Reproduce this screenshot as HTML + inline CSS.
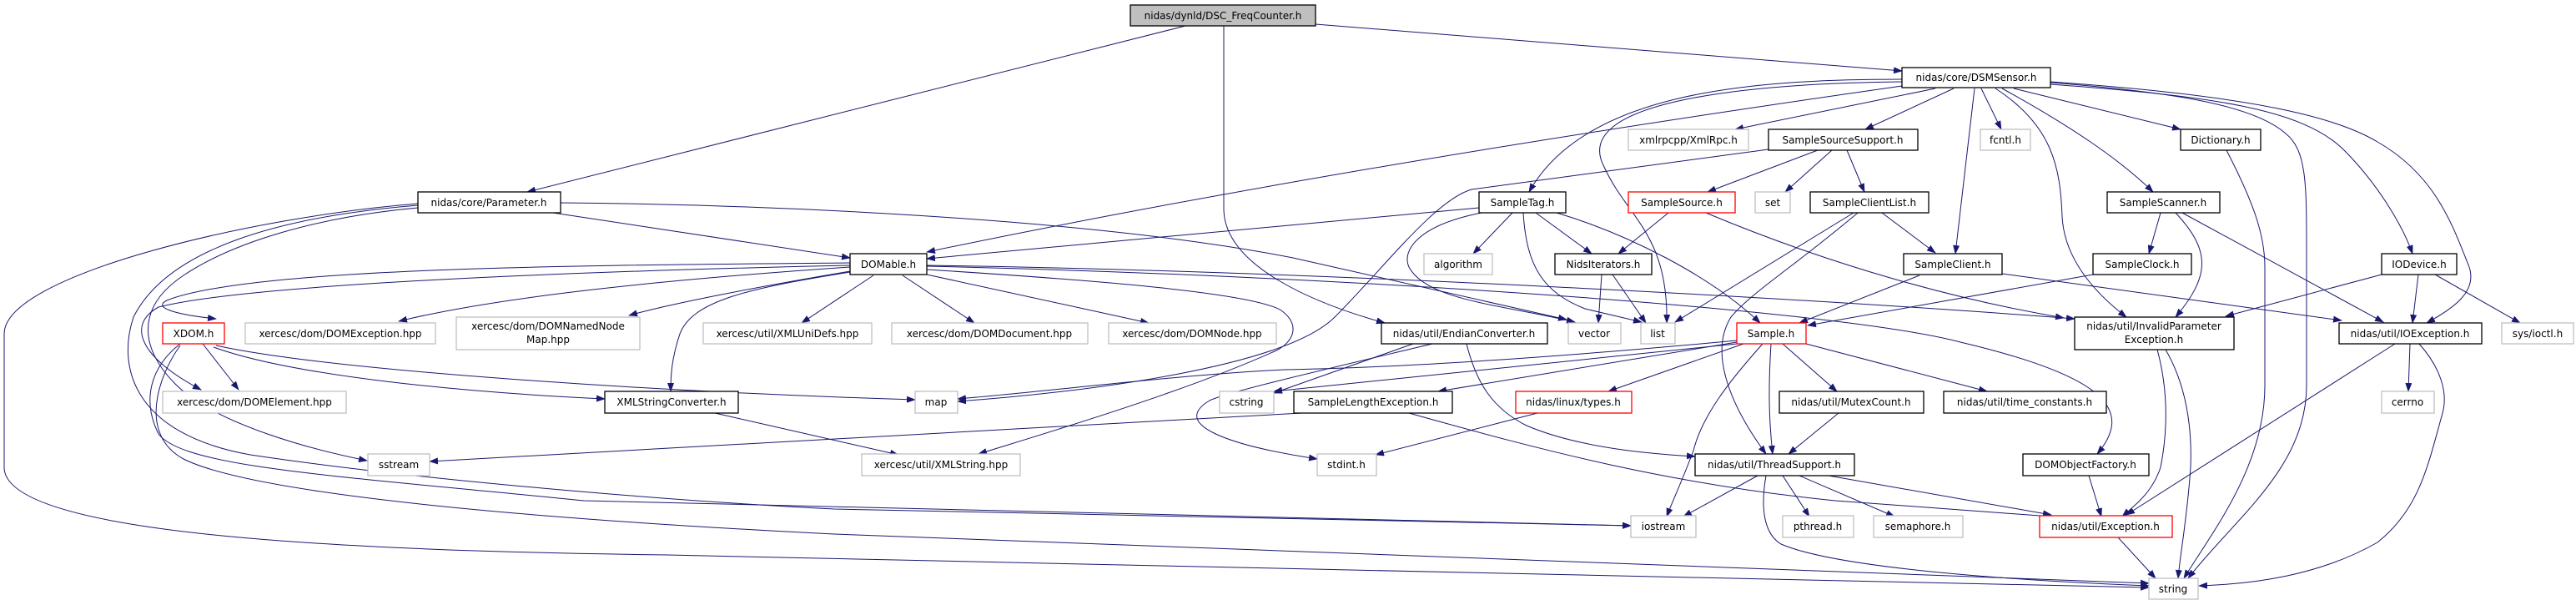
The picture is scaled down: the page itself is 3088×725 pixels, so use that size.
<!DOCTYPE html>
<html><head><meta charset="utf-8"><style>
html,body{margin:0;padding:0;background:#fff;}
svg{display:block;}
text{font-family:"DejaVu Sans","Liberation Sans",sans-serif;font-size:12px;fill:#000;}
.e{fill:none;stroke:#191970;stroke-width:1;}
.n{fill:#fff;stroke:#000;stroke-width:1.3;}
.x{fill:#fff;stroke:#bfbfbf;stroke-width:1.3;}
.r{fill:#fff;stroke:#ff0000;stroke-width:1.3;}
</style></head><body>
<svg width="3088" height="725" viewBox="0 0 3088 725" xmlns="http://www.w3.org/2000/svg">
<defs><marker id="a" markerWidth="11" markerHeight="8" refX="10" refY="4" orient="auto" markerUnits="userSpaceOnUse"><path d="M0,0 L11,4 L0,8 z" fill="#191970"/></marker></defs>
<g class="e" marker-end="url(#a)">
<!-- DSC -->
<path d="M1421,31 L632,230"/>
<path d="M1467,31 L1467,250 C1467,320 1580,365 1660,387"/>
<path d="M1577,29 L2280,85"/>
<!-- DSMSensor -->
<path d="M2280,103 Q1600,200 1111,302"/>
<path d="M2280,95 C2100,95 1900,110 1833,230"/>
<path d="M2280,98 C2100,100 1880,120 1923,200 C1950,260 2000,280 1998,387"/>
<path d="M2320,106 L2080,155"/>
<path d="M2342,106 L2236,155"/>
<path d="M2367,106 L2344,304"/>
<path d="M2375,106 L2399,155"/>
<path d="M2392,106 C2460,150 2470,200 2472,260 C2475,310 2510,350 2549,380"/>
<path d="M2400,106 C2480,150 2540,190 2581,230"/>
<path d="M2414,106 L2614,155"/>
<path d="M2458,99 C2600,110 2700,125 2740,160 C2765,180 2765,220 2765,300 L2765,462 C2765,560 2680,620 2623,693"/>
<path d="M2458,101 C2650,115 2760,130 2810,180 C2850,220 2880,270 2892,304"/>
<path d="M2458,98 C2700,115 2800,140 2850,170 C2920,210 2940,270 2960,320 C2970,350 2940,370 2909,387"/>
<!-- Parameter -->
<path d="M663,255 L1019,309"/>
<path d="M672,243 C900,245 1300,260 1550,309 L1878,383"/>
<path d="M501,244 C300,260 5,330 5,400 L5,560 C5,640 400,660 800,665 L2576,704"/>
<path d="M501,246 C330,260 200,300 160,380 C140,440 160,520 300,545 C500,575 800,600 1000,610 L1955,630"/>
<path d="M501,249 C380,260 280,290 220,330 C160,370 170,420 210,460 C260,510 380,540 440,552"/>
<!-- DOMable -->
<path d="M1019,315 C700,318 300,320 200,360 C180,370 220,378 259,382"/>
<path d="M1019,320 C800,335 600,355 478,385"/>
<path d="M1019,325 C900,345 800,365 754,378"/>
<path d="M1019,318 C700,325 300,340 190,368 C150,390 170,430 241,467"/>
<path d="M1019,326 C900,345 830,360 815,400 C805,430 804,450 804,469"/>
<path d="M1047,330 L961,387"/>
<path d="M1082,330 L1168,387"/>
<path d="M1111,329 L1377,387"/>
<path d="M1111,323 C1300,335 1500,350 1536,372 C1560,390 1550,410 1530,420 C1420,470 1250,520 1173,544"/>
<path d="M1111,319 C1600,330 2200,370 2350,410 C2520,450 2560,490 2514,544"/>
<path d="M1111,318 C1600,325 2200,360 2487,382"/>
<!-- XDOM -->
<path d="M243,412 L286,467"/>
<path d="M256,416 C350,450 550,470 725,478"/>
<path d="M259,414 C400,445 800,470 1097,479"/>
<path d="M216,412 C180,440 170,480 190,520 C220,560 400,570 700,600 L1955,630"/>
<path d="M216,414 C190,450 165,520 220,550 C300,590 600,620 1000,640 L2576,699"/>
<!-- XMLStringConverter -->
<path d="M857,495 L1077,545"/>
<!-- EndianConverter -->
<path d="M1694,412 L1527,471"/>
<path d="M1717,412 C1600,440 1470,470 1450,480 C1400,510 1480,535 1579,550"/>
<path d="M1758,412 C1770,460 1790,490 1830,510 C1900,540 2000,545 2032,547"/>
<!-- SampleSourceSupport -->
<path d="M2120,179 L1764,227 C1720,240 1660,320 1600,380 C1540,440 1300,470 1148,481"/>
<path d="M2179,180 L2047,230"/>
<path d="M2196,180 L2140,230"/>
<path d="M2214,180 L2235,230"/>
<!-- SampleTag -->
<path d="M1773,249 L1111,310"/>
<path d="M1813,255 L1766,304"/>
<path d="M1841,255 L1908,304"/>
<path d="M1776,255 C1700,270 1680,300 1689,320 C1710,360 1800,365 1888,386"/>
<path d="M1826,255 C1830,320 1850,350 1900,370 L1968,386"/>
<path d="M1866,255 C1950,280 2050,330 2110,387"/>
<!-- SampleSource -->
<path d="M2000,255 L1940,304"/>
<path d="M2045,255 C2200,320 2350,360 2474,381"/>
<!-- SampleClientList -->
<path d="M2222,255 L2008,386"/>
<path d="M2227,255 C2150,320 2100,350 2075,380 C2050,420 2070,480 2117,544"/>
<path d="M2256,255 L2320,303"/>
<!-- NidsIterators -->
<path d="M1920,329 L1916,387"/>
<path d="M1933,329 L1973,387"/>
<!-- SampleClient / Clock -->
<path d="M2301,330 L2157,387"/>
<path d="M2400,328 L2807,384"/>
<path d="M2509,329 L2167,390"/>
<!-- SampleScanner -->
<path d="M2590,255 L2576,304"/>
<path d="M2608,255 C2650,300 2650,330 2608,380"/>
<path d="M2616,255 L2857,386"/>
<!-- Dictionary -->
<path d="M2669,180 C2700,240 2715,280 2715,320 L2715,462 C2715,560 2650,640 2618,693"/>
<!-- IODevice -->
<path d="M2855,329 L2668,379"/>
<path d="M2899,329 L2892,387"/>
<path d="M2919,329 L3021,387"/>
<!-- InvalidParameterException -->
<path d="M2586,419 C2600,470 2598,520 2590,560 C2580,590 2560,605 2544,619"/>
<path d="M2596,419 C2620,460 2628,510 2626,560 C2622,620 2614,660 2611,693"/>
<!-- IOException -->
<path d="M2871,412 L2549,617"/>
<path d="M2889,412 L2887,469"/>
<path d="M2900,412 C2925,440 2935,470 2928,495 C2910,560 2900,610 2850,650 C2780,690 2700,700 2636,702"/>
<!-- Sample.h -->
<path d="M2082,410 L1724,469"/>
<path d="M2090,412 L1928,469"/>
<path d="M2137,412 L2202,469"/>
<path d="M2123,412 C2120,460 2120,500 2125,544"/>
<path d="M2113,412 C2070,460 2040,500 2030,540 C2015,580 2005,600 1998,619"/>
<path d="M2165,412 L2382,469"/>
<path d="M2082,408 C1900,425 1700,440 1540,443 C1400,450 1250,470 1148,478"/>
<path d="M2082,412 C1800,440 1600,460 1527,469"/>
<!-- others -->
<path d="M1560,495 L515,553"/>
<path d="M1689,495 C1850,540 2000,580 2200,600 L2459,619"/>
<path d="M1843,495 L1649,545"/>
<path d="M2204,495 L2144,544"/>
<path d="M2107,570 L2018,619"/>
<path d="M2137,570 L2169,619"/>
<path d="M2157,570 L2271,619"/>
<path d="M2192,570 L2459,617"/>
<path d="M2117,570 C2110,610 2115,640 2135,652 C2200,680 2400,695 2576,702"/>
<path d="M2504,570 L2519,619"/>
<path d="M2539,644 L2584,693"/>
</g>
<g>
<rect x="1355" y="6" width="222" height="25" fill="#bfbfbf" stroke="#000" stroke-width="1.3"/><text x="1466" y="23" text-anchor="middle">nidas/dynld/DSC_FreqCounter.h</text>
<rect class="n" x="2280" y="81" width="178" height="24"/><text x="2369" y="97" text-anchor="middle">nidas/core/DSMSensor.h</text>
<rect class="x" x="1952" y="155" width="144" height="25"/><text x="2024" y="172" text-anchor="middle">xmlrpcpp/XmlRpc.h</text>
<rect class="n" x="2120" y="155" width="179" height="25"/><text x="2209" y="172" text-anchor="middle">SampleSourceSupport.h</text>
<rect class="x" x="2374" y="155" width="60" height="25"/><text x="2404" y="172" text-anchor="middle">fcntl.h</text>
<rect class="n" x="2614" y="155" width="96" height="25"/><text x="2662" y="172" text-anchor="middle">Dictionary.h</text>
<rect class="n" x="501" y="230" width="171" height="25"/><text x="586" y="247" text-anchor="middle">nidas/core/Parameter.h</text>
<rect class="n" x="1773" y="230" width="104" height="25"/><text x="1825" y="247" text-anchor="middle">SampleTag.h</text>
<rect class="r" x="1952" y="230" width="128" height="25"/><text x="2016" y="247" text-anchor="middle">SampleSource.h</text>
<rect class="x" x="2104" y="230" width="42" height="25"/><text x="2125" y="247" text-anchor="middle">set</text>
<rect class="n" x="2170" y="230" width="142" height="25"/><text x="2241" y="247" text-anchor="middle">SampleClientList.h</text>
<rect class="n" x="2526" y="230" width="135" height="25"/><text x="2593" y="247" text-anchor="middle">SampleScanner.h</text>
<rect class="n" x="1019" y="304" width="92" height="25"/><text x="1065" y="321" text-anchor="middle">DOMable.h</text>
<rect class="x" x="1707" y="304" width="82" height="25"/><text x="1748" y="321" text-anchor="middle">algorithm</text>
<rect class="n" x="1864" y="304" width="116" height="25"/><text x="1922" y="321" text-anchor="middle">NidsIterators.h</text>
<rect class="n" x="2282" y="304" width="118" height="25"/><text x="2341" y="321" text-anchor="middle">SampleClient.h</text>
<rect class="n" x="2509" y="304" width="118" height="25"/><text x="2568" y="321" text-anchor="middle">SampleClock.h</text>
<rect class="n" x="2855" y="304" width="90" height="25"/><text x="2900" y="321" text-anchor="middle">IODevice.h</text>
<rect class="r" x="195" y="387" width="74" height="25"/><text x="232" y="404" text-anchor="middle">XDOM.h</text>
<rect class="x" x="294" y="387" width="228" height="25"/><text x="408" y="404" text-anchor="middle">xercesc/dom/DOMException.hpp</text>
<rect class="x" x="547" y="380" width="220" height="39"/><text x="657" y="395" text-anchor="middle">xercesc/dom/DOMNamedNode</text><text x="657" y="411" text-anchor="middle">Map.hpp</text>
<rect class="x" x="843" y="387" width="202" height="25"/><text x="944" y="404" text-anchor="middle">xercesc/util/XMLUniDefs.hpp</text>
<rect class="x" x="1069" y="387" width="235" height="25"/><text x="1186" y="404" text-anchor="middle">xercesc/dom/DOMDocument.hpp</text>
<rect class="x" x="1329" y="387" width="201" height="25"/><text x="1429" y="404" text-anchor="middle">xercesc/dom/DOMNode.hpp</text>
<rect class="n" x="1656" y="387" width="199" height="25"/><text x="1755" y="404" text-anchor="middle">nidas/util/EndianConverter.h</text>
<rect class="x" x="1880" y="387" width="63" height="25"/><text x="1911" y="404" text-anchor="middle">vector</text>
<rect class="x" x="1967" y="387" width="41" height="25"/><text x="1987" y="404" text-anchor="middle">list</text>
<rect class="r" x="2082" y="387" width="83" height="25"/><text x="2123" y="404" text-anchor="middle">Sample.h</text>
<rect class="n" x="2487" y="380" width="191" height="39"/><text x="2582" y="395" text-anchor="middle">nidas/util/InvalidParameter</text><text x="2582" y="411" text-anchor="middle">Exception.h</text>
<rect class="n" x="2804" y="387" width="171" height="25"/><text x="2889" y="404" text-anchor="middle">nidas/util/IOException.h</text>
<rect class="x" x="2999" y="387" width="86" height="25"/><text x="3042" y="404" text-anchor="middle">sys/ioctl.h</text>
<rect class="x" x="195" y="469" width="220" height="26"/><text x="305" y="486" text-anchor="middle">xercesc/dom/DOMElement.hpp</text>
<rect class="n" x="725" y="469" width="160" height="26"/><text x="805" y="486" text-anchor="middle">XMLStringConverter.h</text>
<rect class="x" x="1097" y="469" width="51" height="26"/><text x="1122" y="486" text-anchor="middle">map</text>
<rect class="x" x="1462" y="469" width="65" height="26"/><text x="1494" y="486" text-anchor="middle">cstring</text>
<rect class="n" x="1551" y="469" width="190" height="26"/><text x="1646" y="486" text-anchor="middle">SampleLengthException.h</text>
<rect class="r" x="1817" y="469" width="139" height="26"/><text x="1886" y="486" text-anchor="middle">nidas/linux/types.h</text>
<rect class="n" x="2133" y="469" width="173" height="26"/><text x="2219" y="486" text-anchor="middle">nidas/util/MutexCount.h</text>
<rect class="n" x="2330" y="469" width="195" height="26"/><text x="2427" y="486" text-anchor="middle">nidas/util/time_constants.h</text>
<rect class="x" x="2855" y="469" width="63" height="26"/><text x="2886" y="486" text-anchor="middle">cerrno</text>
<rect class="x" x="441" y="544" width="74" height="26"/><text x="478" y="561" text-anchor="middle">sstream</text>
<rect class="x" x="1033" y="544" width="190" height="26"/><text x="1128" y="561" text-anchor="middle">xercesc/util/XMLString.hpp</text>
<rect class="x" x="1579" y="544" width="71" height="26"/><text x="1614" y="561" text-anchor="middle">stdint.h</text>
<rect class="n" x="2032" y="544" width="191" height="26"/><text x="2127" y="561" text-anchor="middle">nidas/util/ThreadSupport.h</text>
<rect class="n" x="2425" y="544" width="151" height="26"/><text x="2500" y="561" text-anchor="middle">DOMObjectFactory.h</text>
<rect class="x" x="1955" y="618" width="78" height="26"/><text x="1994" y="635" text-anchor="middle">iostream</text>
<rect class="x" x="2137" y="618" width="85" height="26"/><text x="2179" y="635" text-anchor="middle">pthread.h</text>
<rect class="x" x="2246" y="618" width="107" height="26"/><text x="2299" y="635" text-anchor="middle">semaphore.h</text>
<rect class="r" x="2445" y="618" width="159" height="26"/><text x="2524" y="635" text-anchor="middle">nidas/util/Exception.h</text>
<rect class="x" x="2576" y="693" width="59" height="25"/><text x="2605" y="710" text-anchor="middle">string</text>
</g>
</svg>
</body></html>
